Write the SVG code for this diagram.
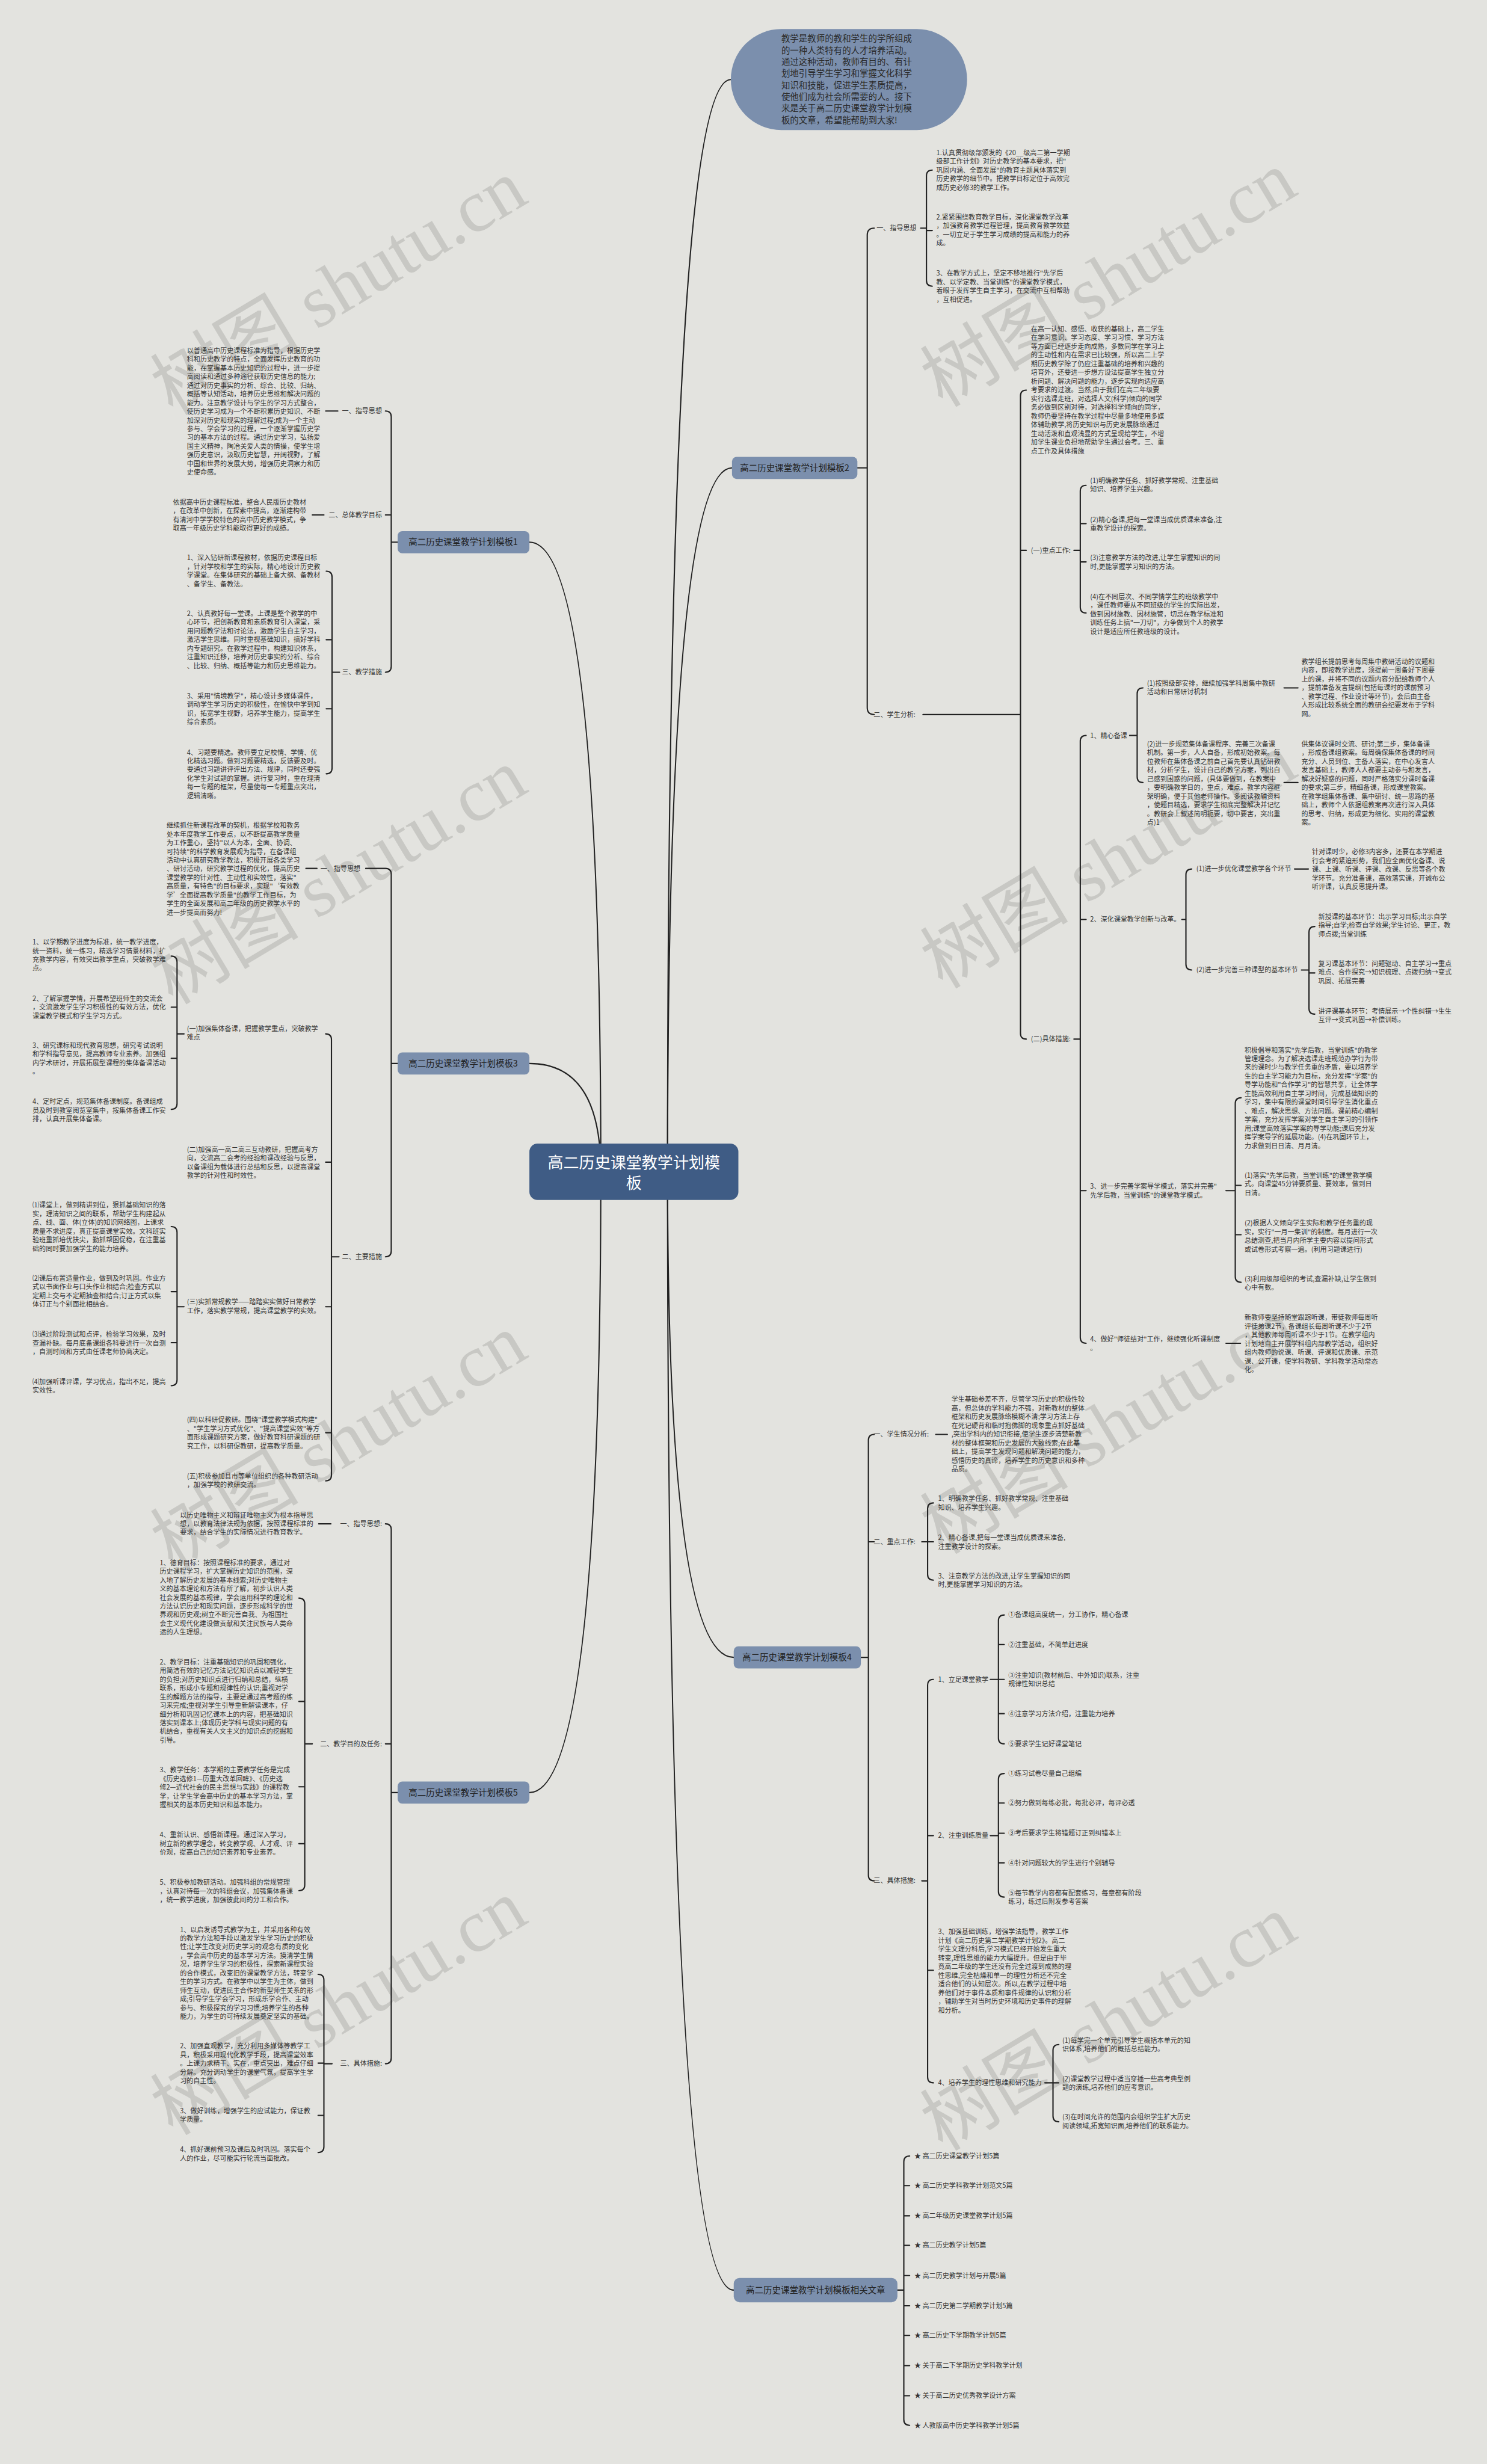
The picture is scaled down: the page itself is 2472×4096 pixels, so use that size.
<svg xmlns="http://www.w3.org/2000/svg" width="2472" height="4096" viewBox="0 0 2472 4096">
<style>
.t{font-family:"Noto Sans CJK SC","Noto Sans",sans-serif;font-size:11.5px;fill:#333}
.l{fill:none;stroke:#222;stroke-width:2.2;stroke-linecap:round}
.w{font-family:"Liberation Serif","Noto Sans CJK SC",serif;font-size:128px;fill:#c8c8c4}
.n1{fill:#7b8fad}
.n1t{font-family:"Noto Sans CJK SC",sans-serif;font-size:15px;fill:#222;text-anchor:middle}
</style>
<rect width="2472" height="4096" fill="#e3e3df"/>
<g transform="scale(0.965)">
<g id="watermarks">
<text class="w" transform="translate(298,717) rotate(-31)">树图 shutu.cn</text>
<text class="w" transform="translate(298,1732) rotate(-31)">树图 shutu.cn</text>
<text class="w" transform="translate(298,2706) rotate(-31)">树图 shutu.cn</text>
<text class="w" transform="translate(298,3680) rotate(-31)">树图 shutu.cn</text>
<text class="w" transform="translate(1624,703) rotate(-31)">树图 shutu.cn</text>
<text class="w" transform="translate(1624,1705) rotate(-31)">树图 shutu.cn</text>
<text class="w" transform="translate(1624,2679) rotate(-31)">树图 shutu.cn</text>
<text class="w" transform="translate(1624,3707) rotate(-31)">树图 shutu.cn</text>
</g>
<g id="connectors">
<path class="l" d="M1150,2018 Q1150,137 1259,137"/>
<path class="l" d="M1150,2018 Q1150,806 1261,806"/>
<path class="l" d="M1150,2018 Q1150,2855 1264,2855"/>
<path class="l" d="M1150,2018 Q1150,3945 1264,3945"/>
<path class="l" d="M1035,2018 Q1035,934 912,934"/>
<path class="l" d="M1035,2018 Q1035,1832 912,1832"/>
<path class="l" d="M1035,2018 Q1035,3088 912,3088"/>
<path class="l" d="M1477,806H1494M1506,393Q1494,393 1494,405V1219Q1494,1231 1506,1231"/>
<path class="l" d="M1586,393H1596M1606,293Q1596,293 1596,303V483Q1596,493 1606,493M1596,397h10"/>
<path class="l" d="M1590,1231H1758M1768,672Q1758,672 1758,682V1780Q1758,1790 1768,1790M1758,948h10"/>
<path class="l" d="M1850,948H1861M1871,836Q1861,836 1861,846V1046Q1861,1056 1871,1056M1861,902h10M1861,968h10"/>
<path class="l" d="M1850,1790H1861M1871,1267Q1861,1267 1861,1277V2304Q1861,2314 1871,2314M1861,1584h10M1861,2051h10"/>
<path class="l" d="M1946,1267H1959M1969,1185Q1959,1185 1959,1195V1338Q1959,1348 1969,1348M2212,1185H2236M2212,1348H2236"/>
<path class="l" d="M2036,1584H2043M2053,1497Q2043,1497 2043,1507V1661Q2043,1671 2053,1671M2230,1497H2254"/>
<path class="l" d="M2242,1671H2255M2265,1596Q2255,1596 2255,1606V1737Q2255,1747 2265,1747M2255,1676h10"/>
<path class="l" d="M2112,2051H2128M2138,1891Q2128,1891 2128,1901V2199Q2128,2209 2138,2209M2128,2042h10M2128,2127h10"/>
<path class="l" d="M2112,2314H2137"/>
<path class="l" d="M1483,2855H1496M1506,2471Q1496,2471 1496,2481V3230Q1496,3240 1506,3240M1496,2656h10"/>
<path class="l" d="M1612,2471H1632"/>
<path class="l" d="M1588,2656H1598M1608,2589Q1598,2589 1598,2599V2712Q1598,2722 1608,2722M1598,2656h10"/>
<path class="l" d="M1588,3240H1598M1608,2893Q1598,2893 1598,2903V3578Q1598,3588 1608,3588M1598,3162h10M1598,3394h10"/>
<path class="l" d="M1706,2893H1720M1730,2782Q1720,2782 1720,2792V2994Q1720,3004 1730,3004M1720,2833h10M1720,2893h10M1720,2952h10"/>
<path class="l" d="M1706,3162H1720M1730,3055Q1720,3055 1720,3065V3258Q1720,3268 1730,3268M1720,3106h10M1720,3158h10M1720,3209h10"/>
<path class="l" d="M1800,3588H1814M1824,3522Q1814,3522 1814,3532V3645Q1814,3655 1824,3655M1814,3588h10"/>
<path class="l" d="M1546,3945H1557M1567,3714Q1557,3714 1557,3724V4168Q1557,4178 1567,4178M1557,3765h10M1557,3817h10M1557,3868h10M1557,3920h10M1557,3972h10M1557,4023h10M1557,4075h10M1557,4127h10"/>
<path class="l" d="M685,934H674M664,708Q674,708 674,718V1148Q674,1158 664,1158M674,887h-10"/>
<path class="l" d="M561,708H582M538,887H558"/>
<path class="l" d="M585,1158H572M562,984Q572,984 572,994V1323Q572,1333 562,1333M572,1102h-10M572,1221h-10"/>
<path class="l" d="M685,1832H674M630,1496H664Q674,1496 674,1506V2155Q674,2165 664,2165"/>
<path class="l" d="M527,1496H546"/>
<path class="l" d="M584,2165H571M561,1781Q571,1781 571,1791V2541Q571,2551 561,2551M571,2002h-10M571,2251h-10M571,2468h-10"/>
<path class="l" d="M317,1781H305M295,1647Q305,1647 305,1657V1901Q305,1911 295,1911M305,1735h-10M305,1823h-10"/>
<path class="l" d="M317,2251H305M295,2113Q305,2113 305,2123V2377Q305,2387 295,2387M305,2225h-10M305,2313h-10"/>
<path class="l" d="M685,3088H674M664,2625Q674,2625 674,2635V3545Q674,3555 664,3555M674,3004h-10"/>
<path class="l" d="M549,2625H570"/>
<path class="l" d="M538,3004H525M515,2753Q525,2753 525,2763V3247Q525,3257 515,3257M525,2931h-10M525,3078h-10M525,3176h-10"/>
<path class="l" d="M572,3555H558M548,3401Q558,3401 558,3411V3698Q558,3708 548,3708M558,3554h-10M558,3644h-10"/>
</g>
<g id="root">
<rect x="912" y="1970" width="360" height="97" rx="14" fill="#3f5c85"/>
<text x="1092" y="2012" text-anchor="middle" font-family="Noto Sans CJK SC,sans-serif" font-size="27" fill="#fff">高二历史课堂教学计划模<tspan x="1092" dy="36">板</tspan></text>
</g>
<g id="intro">
<rect x="1259" y="50" width="407" height="174" rx="87" class="n1"/>
<text x="1346" y="72" font-family="Noto Sans CJK SC,sans-serif" font-size="15" fill="#2a2a2a">教学是教师的教和学生的学所组成<tspan x="1346" dy="20">的一种人类特有的人才培养活动。</tspan><tspan x="1346" dy="20">通过这种活动，教师有目的、有计</tspan><tspan x="1346" dy="20">划地引导学生学习和掌握文化科学</tspan><tspan x="1346" dy="20">知识和技能，促进学生素质提高，</tspan><tspan x="1346" dy="20">使他们成为社会所需要的人。接下</tspan><tspan x="1346" dy="20">来是关于高二历史课堂教学计划模</tspan><tspan x="1346" dy="20">板的文章，希望能帮助到大家!</tspan></text>
</g>
<g id="b1">
<rect x="685" y="915" width="227" height="38" rx="8" class="n1"/>
<text class="n1t" x="798" y="939">高二历史课堂教学计划模板1</text>
<text class="t" x="658" y="712" text-anchor="end">一、指导思想</text>
<text class="t" x="658" y="891" text-anchor="end">二、总体教学目标</text>
<text class="t" x="658" y="1162" text-anchor="end">三、教学措施</text>
<text class="t" x="322" y="608">以普通高中历史课程标准为指导，根据历史学<tspan x="322" dy="15">科和历史教学的特点，全面发挥历史教育的功</tspan><tspan x="322" dy="15">能，在掌握基本历史知识的过程中，进一步提</tspan><tspan x="322" dy="15">高阅读和通过多种途径获取历史信息的能力;</tspan><tspan x="322" dy="15">通过对历史事实的分析、综合、比较、归纳、</tspan><tspan x="322" dy="15">概括等认知活动，培养历史思维和解决问题的</tspan><tspan x="322" dy="15">能力。注意教学设计与学生的学习方式整合，</tspan><tspan x="322" dy="15">使历史学习成为一个不断积累历史知识、不断</tspan><tspan x="322" dy="15">加深对历史和现实的理解过程;成为一个主动</tspan><tspan x="322" dy="15">参与、学会学习的过程，一个逐渐掌握历史学</tspan><tspan x="322" dy="15">习的基本方法的过程。通过历史学习，弘扬爱</tspan><tspan x="322" dy="15">国主义精神，陶冶关爱人类的情操，使学生增</tspan><tspan x="322" dy="15">强历史意识，汲取历史智慧，开阔视野，了解</tspan><tspan x="322" dy="15">中国和世界的发展大势，增强历史洞察力和历</tspan><tspan x="322" dy="15">史使命感。</tspan></text>
<text class="t" x="298" y="869">依据高中历史课程标准，整合人民版历史教材<tspan x="298" dy="15">，在改革中创新，在探索中提高，逐渐建构带</tspan><tspan x="298" dy="15">有清河中学学校特色的高中历史教学模式，争</tspan><tspan x="298" dy="15">取高一年级历史学科能取得更好的成绩。</tspan></text>
<text class="t" x="322" y="965">1、深入钻研新课程教材，依据历史课程目标<tspan x="322" dy="15">，针对学校和学生的实际，精心地设计历史教</tspan><tspan x="322" dy="15">学课堂。在集体研究的基础上备大纲、备教材</tspan><tspan x="322" dy="15">、备学生、备教法。</tspan></text>
<text class="t" x="322" y="1061">2、认真教好每一堂课。上课是整个教学的中<tspan x="322" dy="15">心环节，把创新教育和素质教育引入课堂，采</tspan><tspan x="322" dy="15">用问题教学法和讨论法，激励学生自主学习，</tspan><tspan x="322" dy="15">激活学生思维。同时重视基础知识，搞好学科</tspan><tspan x="322" dy="15">内专题研究。在教学过程中，构建知识体系，</tspan><tspan x="322" dy="15">注重知识迁移，培养对历史事实的分析、综合</tspan><tspan x="322" dy="15">、比较、归纳、概括等能力和历史思维能力。</tspan></text>
<text class="t" x="322" y="1203">3、采用"情境教学"，精心设计多媒体课件，<tspan x="322" dy="15">调动学生学习历史的积极性，在愉快中学到知</tspan><tspan x="322" dy="15">识，拓宽学生视野，培养学生能力，提高学生</tspan><tspan x="322" dy="15">综合素质。</tspan></text>
<text class="t" x="322" y="1300">4、习题要精选。教师要立足校情、学情、优<tspan x="322" dy="15">化精选习题。做到习题要精选，反馈要及时。</tspan><tspan x="322" dy="15">要通过习题讲评评出方法、规律，同时还要强</tspan><tspan x="322" dy="15">化学生对试题的掌握。进行复习时，重在理清</tspan><tspan x="322" dy="15">每一专题的框架，尽量使每一专题重点突出，</tspan><tspan x="322" dy="15">逻辑清晰。</tspan></text>
</g>
<g id="b3">
<rect x="685" y="1813" width="227" height="38" rx="8" class="n1"/>
<text class="n1t" x="798" y="1837">高二历史课堂教学计划模板3</text>
<text class="t" x="552" y="1500">一、指导思想</text>
<text class="t" x="658" y="2169" text-anchor="end">二、主要措施</text>
<text class="t" x="287" y="1426">继续抓住新课程改革的契机，根据学校和教务<tspan x="287" dy="15">处本年度教学工作要点，以不断提高教学质量</tspan><tspan x="287" dy="15">为工作重心，坚持"以人为本，全面、协调、</tspan><tspan x="287" dy="15">可持续"的科学教育发展观为指导，在备课组</tspan><tspan x="287" dy="15">活动中认真研究教学教法，积极开展各类学习</tspan><tspan x="287" dy="15">、研讨活动，研究教学过程的优化，提高历史</tspan><tspan x="287" dy="15">课堂教学的针对性、主动性和实效性，落实"</tspan><tspan x="287" dy="15">高质量，有特色"的目标要求，实现"‘有效教</tspan><tspan x="287" dy="15">学’全面提高教学质量"的教学工作目标，为</tspan><tspan x="287" dy="15">学生的全面发展和高二年级的历史教学水平的</tspan><tspan x="287" dy="15">进一步提高而努力!</tspan></text>
<text class="t" x="322" y="1776">(一)加强集体备课，把握教学重点，突破教学<tspan x="322" dy="15">难点</tspan></text>
<text class="t" x="322" y="1984">(二)加强高一高二高三互动教研，把握高考方<tspan x="322" dy="15">向，交流高二会考的经验和课改经验与反思，</tspan><tspan x="322" dy="15">以备课组为载体进行总结和反思，以提高课堂</tspan><tspan x="322" dy="15">教学的针对性和时效性。</tspan></text>
<text class="t" x="322" y="2247">(三)实抓常规教学——踏踏实实做好日常教学<tspan x="322" dy="15">工作，落实教学常规，提高课堂教学的实效。</tspan></text>
<text class="t" x="322" y="2450">(四)以科研促教研。围绕"课堂教学模式构建"<tspan x="322" dy="15">、"学生学习方式优化"、"提高课堂实效"等方</tspan><tspan x="322" dy="15">面形成课题研究方案，做好教育科研课题的研</tspan><tspan x="322" dy="15">究工作，以科研促教研，提高教学质量。</tspan></text>
<text class="t" x="322" y="2547">(五)积极参加县市等单位组织的各种教研活动<tspan x="322" dy="15">，加强学校的教研交流。</tspan></text>
<text class="t" x="56" y="1627">1、以学期教学进度为标准，统一教学进度，<tspan x="56" dy="15">统一资料，统一练习，精选学习情景材料，扩</tspan><tspan x="56" dy="15">充教学内容，有效突出教学重点，突破教学难</tspan><tspan x="56" dy="15">点。</tspan></text>
<text class="t" x="56" y="1724">2、了解掌握学情，开展希望班师生的交流会<tspan x="56" dy="15">，交流激发学生学习积极性的有效方法，优化</tspan><tspan x="56" dy="15">课堂教学模式和学生学习方式。</tspan></text>
<text class="t" x="56" y="1805">3、研究课标和现代教育思想，研究考试说明<tspan x="56" dy="15">和学科指导意见，提高教师专业素养。加强组</tspan><tspan x="56" dy="15">内学术研讨，开展拓展型课程的集体备课活动</tspan><tspan x="56" dy="15">。</tspan></text>
<text class="t" x="56" y="1902">4、定时定点，规范集体备课制度。备课组成<tspan x="56" dy="15">员及时到教室阅览室集中，按集体备课工作安</tspan><tspan x="56" dy="15">排，认真开展集体备课。</tspan></text>
<text class="t" x="56" y="2080">⑴课堂上，做到精讲到位，狠抓基础知识的落<tspan x="56" dy="15">实，理清知识之间的联系，帮助学生构建起从</tspan><tspan x="56" dy="15">点、线、面、体(立体)的知识网络图，上课求</tspan><tspan x="56" dy="15">质量不求进度，真正提高课堂实效。文科班实</tspan><tspan x="56" dy="15">验班重抓培优扶尖，勤抓帮困促稳，在注重基</tspan><tspan x="56" dy="15">础的同时要加强学生的能力培养。</tspan></text>
<text class="t" x="56" y="2206">⑵课后布置适量作业，做到及时巩固。作业方<tspan x="56" dy="15">式以书面作业与口头作业相结合;检查方式以</tspan><tspan x="56" dy="15">定期上交与不定期抽查相结合;订正方式以集</tspan><tspan x="56" dy="15">体订正与个别面批相结合。</tspan></text>
<text class="t" x="56" y="2303">⑶通过阶段测试和点评，检验学习效果，及时<tspan x="56" dy="15">查漏补缺。每月底备课组各科要进行一次自测</tspan><tspan x="56" dy="15">，自测时间和方式由任课老师协商决定。</tspan></text>
<text class="t" x="56" y="2384">⑷加强听课评课，学习优点，指出不足，提高<tspan x="56" dy="15">实效性。</tspan></text>
</g>
<g id="b5">
<rect x="685" y="3069" width="227" height="38" rx="8" class="n1"/>
<text class="n1t" x="798" y="3093">高二历史课堂教学计划模板5</text>
<text class="t" x="658" y="2629" text-anchor="end">一、指导思想:</text>
<text class="t" x="658" y="3008" text-anchor="end">二、教学目的及任务:</text>
<text class="t" x="658" y="3559" text-anchor="end">三、具体措施:</text>
<text class="t" x="310" y="2614">以历史唯物主义和辩证唯物主义为根本指导思<tspan x="310" dy="15">想，以教育法律法规为依据，按照课程标准的</tspan><tspan x="310" dy="15">要求，结合学生的实际情况进行教育教学。</tspan></text>
<text class="t" x="275" y="2696">1、德育目标：按照课程标准的要求，通过对<tspan x="275" dy="15">历史课程学习，扩大掌握历史知识的范围，深</tspan><tspan x="275" dy="15">入地了解历史发展的基本线索;对历史唯物主</tspan><tspan x="275" dy="15">义的基本理论和方法有所了解，初步认识人类</tspan><tspan x="275" dy="15">社会发展的基本规律，学会运用科学的理论和</tspan><tspan x="275" dy="15">方法认识历史和现实问题，逐步形成科学的世</tspan><tspan x="275" dy="15">界观和历史观;树立不断完善自我、为祖国社</tspan><tspan x="275" dy="15">会主义现代化建设做贡献和关注民族与人类命</tspan><tspan x="275" dy="15">运的人生理想。</tspan></text>
<text class="t" x="275" y="2867">2、教学目标：注重基础知识的巩固和强化，<tspan x="275" dy="15">用简洁有效的记忆方法记忆知识点以减轻学生</tspan><tspan x="275" dy="15">的负担;对历史知识点进行归纳和总结，纵横</tspan><tspan x="275" dy="15">联系，形成小专题和规律性的认识;重视对学</tspan><tspan x="275" dy="15">生的解题方法的指导，主要是通过高考题的练</tspan><tspan x="275" dy="15">习来完成;重视对学生引导重新解读课本，仔</tspan><tspan x="275" dy="15">细分析和巩固记忆课本上的内容，把基础知识</tspan><tspan x="275" dy="15">落实到课本上;体现历史学科与现实问题的有</tspan><tspan x="275" dy="15">机结合，重视有关人文主义的知识点的挖掘和</tspan><tspan x="275" dy="15">引导。</tspan></text>
<text class="t" x="275" y="3053">3、教学任务：本学期的主要教学任务是完成<tspan x="275" dy="15">《历史选修1—历重大改革回眸》、《历史选</tspan><tspan x="275" dy="15">修2—近代社会的民主思想与实践》的课程教</tspan><tspan x="275" dy="15">学，让学生学会高中历史的基本学习方法，掌</tspan><tspan x="275" dy="15">握相关的基本历史知识和基本能力。</tspan></text>
<text class="t" x="275" y="3165">4、重新认识、感悟新课程。通过深入学习，<tspan x="275" dy="15">树立新的教学理念，转变教学观、人才观、评</tspan><tspan x="275" dy="15">价观，提高自己的知识素养和专业素养。</tspan></text>
<text class="t" x="275" y="3247">5、积极参加教研活动。加强科组的常规管理<tspan x="275" dy="15">，认真对待每一次的科组会议，加强集体备课</tspan><tspan x="275" dy="15">，统一教学进度，加强彼此间的分工和合作。</tspan></text>
<text class="t" x="310" y="3328">1、以启发诱导式教学为主，并采用各种有效<tspan x="310" dy="15">的教学方法和手段以激发学生学习历史的积极</tspan><tspan x="310" dy="15">性;让学生改变对历史学习的观念有质的变化</tspan><tspan x="310" dy="15">，学会高中历史的基本学习方法。摸清学生情</tspan><tspan x="310" dy="15">况，培养学生学习的积极性，探索新课程实验</tspan><tspan x="310" dy="15">的合作模式，改变旧的课堂教学方法，转变学</tspan><tspan x="310" dy="15">生的学习方式。在教学中以学生为主体，做到</tspan><tspan x="310" dy="15">师生互动，促进民主合作的新型师生关系的形</tspan><tspan x="310" dy="15">成;引导学生学会学习，形成乐学合作、主动</tspan><tspan x="310" dy="15">参与、积极探究的学习习惯;培养学生的各种</tspan><tspan x="310" dy="15">能力，为学生的可持续发展奠定坚实的基础。</tspan></text>
<text class="t" x="310" y="3529">2、加强直观教学，充分利用多媒体等教学工<tspan x="310" dy="15">具，积极采用现代化教学手段，提高课堂效率</tspan><tspan x="310" dy="15">。上课力求精干、实在，重点突出，难点仔细</tspan><tspan x="310" dy="15">分解。充分调动学生的课堂气氛，提高学生学</tspan><tspan x="310" dy="15">习的自主性。</tspan></text>
<text class="t" x="310" y="3640">3、做好训练，增强学生的应试能力，保证教<tspan x="310" dy="15">学质量。</tspan></text>
<text class="t" x="310" y="3707">4、抓好课前预习及课后及时巩固。落实每个<tspan x="310" dy="15">人的作业，尽可能实行轮流当面批改。</tspan></text>
</g>
<g id="b2">
<rect x="1261" y="787" width="216" height="38" rx="8" class="n1"/>
<text class="n1t" x="1369" y="811">高二历史课堂教学计划模板2</text>
<text class="t" x="1510" y="397">一、指导思想</text>
<text class="t" x="1613" y="267">1.认真贯彻级部颁发的《20__级高二第一学期<tspan x="1613" dy="15">级部工作计划》对历史教学的基本要求，把"</tspan><tspan x="1613" dy="15">巩固内涵、全面发展"的教育主题具体落实到</tspan><tspan x="1613" dy="15">历史教学的细节中。把教学目标定位于高效完</tspan><tspan x="1613" dy="15">成历史必修3的教学工作。</tspan></text>
<text class="t" x="1613" y="378">2.紧紧围绕教育教学目标，深化课堂教学改革<tspan x="1613" dy="15">，加强教育教学过程管理，提高教育教学效益</tspan><tspan x="1613" dy="15">。一切立足于学生学习成绩的提高和能力的养</tspan><tspan x="1613" dy="15">成。</tspan></text>
<text class="t" x="1613" y="475">3、在教学方式上，坚定不移地推行"先学后<tspan x="1613" dy="15">教、以学定教、当堂训练"的课堂教学模式，</tspan><tspan x="1613" dy="15">着眼于发挥学生自主学习，在交流中互相帮助</tspan><tspan x="1613" dy="15">，互相促进。</tspan></text>
<text class="t" x="1505" y="1235">二、学生分析:</text>
<text class="t" x="1776" y="571">在高一认知、感悟、收获的基础上，高二学生<tspan x="1776" dy="15">在学习意识、学习态度、学习习惯、学习方法</tspan><tspan x="1776" dy="15">等方面已经逐步走向成熟，多数同学在学习上</tspan><tspan x="1776" dy="15">的主动性和内在需求已比较强，所以高二上学</tspan><tspan x="1776" dy="15">期历史教学除了仍应注重基础的培养和兴趣的</tspan><tspan x="1776" dy="15">培育外，还要进一步想方设法提高学生独立分</tspan><tspan x="1776" dy="15">析问题、解决问题的能力，逐步实现向适应高</tspan><tspan x="1776" dy="15">考要求的过渡。当然,由于我们在高二年级要</tspan><tspan x="1776" dy="15">实行选课走班，对选择人文(科学)倾向的同学</tspan><tspan x="1776" dy="15">务必做到区别对待，对选择科学倾向的同学，</tspan><tspan x="1776" dy="15">教师仍要坚持在教学过程中尽量多地使用多媒</tspan><tspan x="1776" dy="15">体辅助教学,将历史知识与历史发展脉络通过</tspan><tspan x="1776" dy="15">生动活泼和直观浅显的方式呈现给学生，不增</tspan><tspan x="1776" dy="15">加学生课业负担地帮助学生通过会考。三、重</tspan><tspan x="1776" dy="15">点工作及具体措施</tspan></text>
<text class="t" x="1776" y="952">(一)重点工作:</text>
<text class="t" x="1776" y="1794">(二)具体措施:</text>
<text class="t" x="1878" y="832">(1)明确教学任务、抓好教学常规、注重基础<tspan x="1878" dy="15">知识、培养学生兴趣。</tspan></text>
<text class="t" x="1878" y="899">(2)精心备课,把每一堂课当成优质课来准备,注<tspan x="1878" dy="15">重教学设计的探索。</tspan></text>
<text class="t" x="1878" y="965">(3)注意教学方法的改进,让学生掌握知识的同<tspan x="1878" dy="15">时,更能掌握学习知识的方法。</tspan></text>
<text class="t" x="1878" y="1032">(4)在不同层次、不同学情学生的班级教学中<tspan x="1878" dy="15">，课任教师要从不同班级的学生的实际出发，</tspan><tspan x="1878" dy="15">做到因材施教、因材施管，切忌在教学标准和</tspan><tspan x="1878" dy="15">训练任务上搞"一刀切"，力争做到个人的教学</tspan><tspan x="1878" dy="15">设计是适应所任教班级的设计。</tspan></text>
<text class="t" x="1878" y="1271">1、精心备课</text>
<text class="t" x="1976" y="1181">(1)按照级部安排，继续加强学科周集中教研<tspan x="1976" dy="15">活动和日常研讨机制</tspan></text>
<text class="t" x="1976" y="1286">(2)进一步规范集体备课程序、完善三次备课<tspan x="1976" dy="15">机制。第一步，人人自备，形成初始教案。每</tspan><tspan x="1976" dy="15">位教师在集体备课之前自己首先要认真钻研教</tspan><tspan x="1976" dy="15">材，分析学生，设计自己的教学方案，列出自</tspan><tspan x="1976" dy="15">己感到困惑的问题，(具体要做到，在教案中</tspan><tspan x="1976" dy="15">，要明确教学目的，重点，难点。教学内容框</tspan><tspan x="1976" dy="15">架明确，便于其他老师操作。多阅读教辅资料</tspan><tspan x="1976" dy="15">，使题目精选，要求学生彻底完整解决并记忆</tspan><tspan x="1976" dy="15">。教研会上叙述简明扼要，切中要害，突出重</tspan><tspan x="1976" dy="15">点)1</tspan></text>
<text class="t" x="2242" y="1144">教学组长提前思考每周集中教研活动的议题和<tspan x="2242" dy="15">内容，即按教学进度，须提前一周备好下周要</tspan><tspan x="2242" dy="15">上的课，并将不同的议题内容分配给教师个人</tspan><tspan x="2242" dy="15">，提前准备发言提纲(包括每课时的课前预习</tspan><tspan x="2242" dy="15">、教学过程、作业设计等环节)，会后由主备</tspan><tspan x="2242" dy="15">人形成比较系统全面的教研会纪要发布于学科</tspan><tspan x="2242" dy="15">网。</tspan></text>
<text class="t" x="2242" y="1286">供集体议课时交流、研讨;第二步，集体备课<tspan x="2242" dy="15">，形成备课组教案。每周确保集体备课的时间</tspan><tspan x="2242" dy="15">充分、人员到位、主备人落实，在中心发言人</tspan><tspan x="2242" dy="15">发言基础上，教师人人都要主动参与和发言，</tspan><tspan x="2242" dy="15">解决好疑惑的问题，同时严格落实分课时备课</tspan><tspan x="2242" dy="15">的要求;第三步，精细备课，形成课堂教案。</tspan><tspan x="2242" dy="15">在教学组集体备课、集中研讨、统一思路的基</tspan><tspan x="2242" dy="15">础上，教师个人依据组教案再次进行深入具体</tspan><tspan x="2242" dy="15">的思考、归纳，形成更为细化、实用的课堂教</tspan><tspan x="2242" dy="15">案。</tspan></text>
<text class="t" x="1878" y="1588">2、深化课堂教学创新与改革。</text>
<text class="t" x="2061" y="1501">(1)进一步优化课堂教学各个环节</text>
<text class="t" x="2260" y="1472">针对课时少，必修3内容多，还要在本学期进<tspan x="2260" dy="15">行会考的紧迫形势，我们应全面优化备课、说</tspan><tspan x="2260" dy="15">课、上课、听课、评课、改课、反思等各个教</tspan><tspan x="2260" dy="15">学环节。充分准备课，高效落实课，开诚布公</tspan><tspan x="2260" dy="15">听评课，认真反思提升课。</tspan></text>
<text class="t" x="2061" y="1675">(2)进一步完善三种课型的基本环节</text>
<text class="t" x="2271" y="1583">新授课的基本环节：出示学习目标;出示自学<tspan x="2271" dy="15">指导;自学;检查自学效果;学生讨论、更正，教</tspan><tspan x="2271" dy="15">师点拨;当堂训练</tspan></text>
<text class="t" x="2271" y="1664">复习课基本环节：问题驱动、自主学习→重点<tspan x="2271" dy="15">难点、合作探究→知识梳理、点拨归纳→变式</tspan><tspan x="2271" dy="15">巩固、拓展完善</tspan></text>
<text class="t" x="2271" y="1746">讲评课基本环节：考情展示→个性纠错→生生<tspan x="2271" dy="15">互评→变式巩固→补偿训练。</tspan></text>
<text class="t" x="1878" y="2048">3、进一步完善学案导学模式，落实并完善"<tspan x="1878" dy="15">先学后教，当堂训练"的课堂教学模式。</tspan></text>
<text class="t" x="2144" y="1813">积极倡导和落实"先学后教，当堂训练"的教学<tspan x="2144" dy="15">管理理念。为了解决选课走班规范办学行为带</tspan><tspan x="2144" dy="15">来的课时少与教学任务重的矛盾，要以培养学</tspan><tspan x="2144" dy="15">生的自主学习能力为目标，充分发挥"学案"的</tspan><tspan x="2144" dy="15">导学功能和"合作学习"的智慧共享，让全体学</tspan><tspan x="2144" dy="15">生能高效利用自主学习时间，完成基础知识的</tspan><tspan x="2144" dy="15">学习，集中有限的课堂时间引导学生消化重点</tspan><tspan x="2144" dy="15">、难点，解决思想、方法问题。课前精心编制</tspan><tspan x="2144" dy="15">学案，充分发挥学案对学生自主学习的引领作</tspan><tspan x="2144" dy="15">用;课堂高效落实学案的导学功能;课后充分发</tspan><tspan x="2144" dy="15">挥学案导学的延展功能。(4)在巩固环节上，</tspan><tspan x="2144" dy="15">力求做到日日清、月月清。</tspan></text>
<text class="t" x="2144" y="2029">(1)落实"先学后教，当堂训练"的课堂教学模<tspan x="2144" dy="15">式。向课堂45分钟要质量、要效率，做到日</tspan><tspan x="2144" dy="15">日清。</tspan></text>
<text class="t" x="2144" y="2111">(2)根据人文倾向学生实际和教学任务重的现<tspan x="2144" dy="15">实，实行"一月一集训"的制度。每月进行一次</tspan><tspan x="2144" dy="15">总结测查,把当月内所学主要内容以提问形式</tspan><tspan x="2144" dy="15">或试卷形式考察一遍。(利用习题课进行)</tspan></text>
<text class="t" x="2144" y="2207">(3)利用级部组织的考试,查漏补缺,让学生做到<tspan x="2144" dy="15">心中有数。</tspan></text>
<text class="t" x="1878" y="2311">4、做好"师徒结对"工作，继续强化听课制度<tspan x="1878" dy="15">。</tspan></text>
<text class="t" x="2144" y="2274">新教师要坚持随堂跟踪听课，带徒教师每周听<tspan x="2144" dy="15">评徒弟课2节，备课组长每周听课不少于2节</tspan><tspan x="2144" dy="15">，其他教师每周听课不少于1节。在教学组内</tspan><tspan x="2144" dy="15">计划地自主开展学科组内部教学活动，组织好</tspan><tspan x="2144" dy="15">组内教师的说课、听课、评课和优质课、示范</tspan><tspan x="2144" dy="15">课、公开课，使学科教研、学科教学活动常态</tspan><tspan x="2144" dy="15">化。</tspan></text>
</g>
<g id="b4">
<rect x="1264" y="2836" width="219" height="38" rx="8" class="n1"/>
<text class="n1t" x="1373" y="2860">高二历史课堂教学计划模板4</text>
<text class="t" x="1505" y="2475">一、学生情况分析:</text>
<text class="t" x="1505" y="2660">二、重点工作:</text>
<text class="t" x="1505" y="3244">三、具体措施:</text>
<text class="t" x="1639" y="2415">学生基础参差不齐，尽管学习历史的积极性较<tspan x="1639" dy="15">高，但总体的学科能力不强，对新教材的整体</tspan><tspan x="1639" dy="15">框架和历史发展脉络模糊不清;学习方法上存</tspan><tspan x="1639" dy="15">在死记硬背和临时抱佛脚的现象重点抓好基础</tspan><tspan x="1639" dy="15">,突出学科内的知识衔接,使学生逐步清楚新教</tspan><tspan x="1639" dy="15">材的整体框架和历史发展的大致线索;在此基</tspan><tspan x="1639" dy="15">础上，提高学生发现问题和解决问题的能力，</tspan><tspan x="1639" dy="15">感悟历史的真谛，培养学生的历史意识和多种</tspan><tspan x="1639" dy="15">品质。</tspan></text>
<text class="t" x="1616" y="2586">1、明确教学任务、抓好教学常规、注重基础<tspan x="1616" dy="15">知识、培养学生兴趣。</tspan></text>
<text class="t" x="1616" y="2653">2、精心备课,把每一堂课当成优质课来准备,<tspan x="1616" dy="15">注重教学设计的探索。</tspan></text>
<text class="t" x="1616" y="2719">3、注意教学方法的改进,让学生掌握知识的同<tspan x="1616" dy="15">时,更能掌握学习知识的方法。</tspan></text>
<text class="t" x="1616" y="2897">1、立足课堂教学</text>
<text class="t" x="1737" y="2786">①备课组高度统一，分工协作，精心备课</text>
<text class="t" x="1737" y="2837">②注重基础，不简单赶进度</text>
<text class="t" x="1737" y="2890">③注重知识(教材前后、中外知识)联系，注重<tspan x="1737" dy="15">规律性知识总结</tspan></text>
<text class="t" x="1737" y="2956">④注意学习方法介绍，注重能力培养</text>
<text class="t" x="1737" y="3008">⑤要求学生记好课堂笔记</text>
<text class="t" x="1616" y="3166">2、注重训练质量</text>
<text class="t" x="1737" y="3059">①练习试卷尽量自己组编</text>
<text class="t" x="1737" y="3110">②努力做到每练必批，每批必评，每评必透</text>
<text class="t" x="1737" y="3162">③考后要求学生将错题订正到纠错本上</text>
<text class="t" x="1737" y="3213">④针对问题较大的学生进行个别辅导</text>
<text class="t" x="1737" y="3265">⑤每节教学内容都有配套练习，每章都有阶段<tspan x="1737" dy="15">练习，练过后附发参考答案</tspan></text>
<text class="t" x="1616" y="3332">3、加强基础训练，增强学法指导，教学工作<tspan x="1616" dy="15">计划《高二历史第二学期教学计划2》。高二</tspan><tspan x="1616" dy="15">学生文理分科后,学习模式已经开始发生重大</tspan><tspan x="1616" dy="15">转变,理性思维的能力大幅提升。但是由于毕</tspan><tspan x="1616" dy="15">竟高二年级的学生还没有完全过渡到成熟的理</tspan><tspan x="1616" dy="15">性思维,完全枯燥和单一的理性分析还不完全</tspan><tspan x="1616" dy="15">适合他们的认知层次。所以,在教学过程中培</tspan><tspan x="1616" dy="15">养他们对于事件本质和事件规律的认识和分析</tspan><tspan x="1616" dy="15">，辅助学生对当时历史环境和历史事件的理解</tspan><tspan x="1616" dy="15">和分析。</tspan></text>
<text class="t" x="1616" y="3592">4、培养学生的理性思维和研究能力</text>
<text class="t" x="1830" y="3519">(1)每学完一个单元引导学生概括本单元的知<tspan x="1830" dy="15">识体系,培养他们的概括总结能力。</tspan></text>
<text class="t" x="1830" y="3585">(2)课堂教学过程中适当穿插一些高考典型例<tspan x="1830" dy="15">题的演练,培养他们的应考意识。</tspan></text>
<text class="t" x="1830" y="3651">(3)在时间允许的范围内会组织学生扩大历史<tspan x="1830" dy="15">阅读领域,拓宽知识面,培养他们的联系能力。</tspan></text>
</g>
<g id="related">
<rect x="1264" y="3924" width="282" height="42" rx="10" class="n1"/>
<text class="n1t" x="1405" y="3950">高二历史课堂教学计划模板相关文章</text>
<text class="t" x="1575" y="3718">★ 高二历史课堂教学计划5篇</text>
<text class="t" x="1575" y="3769">★ 高二历史学科教学计划范文5篇</text>
<text class="t" x="1575" y="3821">★ 高二年级历史课堂教学计划5篇</text>
<text class="t" x="1575" y="3872">★ 高二历史教学计划5篇</text>
<text class="t" x="1575" y="3924">★ 高二历史教学计划与开展5篇</text>
<text class="t" x="1575" y="3976">★ 高二历史第二学期教学计划5篇</text>
<text class="t" x="1575" y="4027">★ 高二历史下学期教学计划5篇</text>
<text class="t" x="1575" y="4079">★ 关于高二下学期历史学科教学计划</text>
<text class="t" x="1575" y="4131">★ 关于高二历史优秀教学设计方案</text>
<text class="t" x="1575" y="4182">★ 人教版高中历史学科教学计划5篇</text>
</g>
</g>
</svg>
